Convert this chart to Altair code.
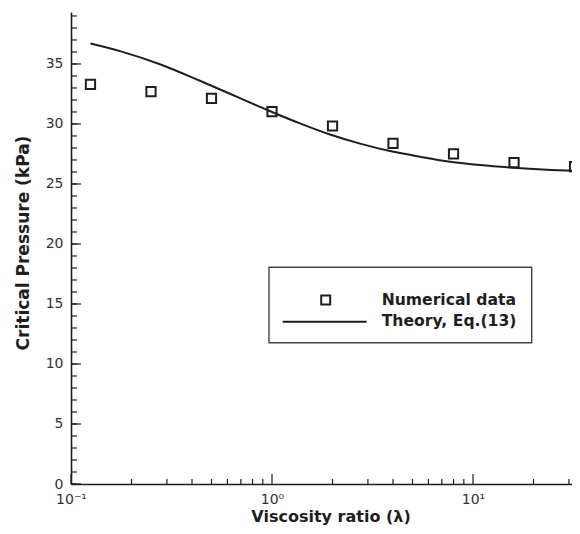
import altair as alt
import pandas as pd

# Numerical data (squares)
lam_data = [0.125, 0.25, 0.5, 1, 2, 4, 8, 16, 32]
p_data = [33.3, 32.7, 32.14, 31.03, 29.83, 28.39, 27.5, 26.78, 26.44]

# Theory curve
lam_theory = [0.125, 0.177, 0.277, 0.438, 0.693, 0.871, 1.0, 1.377, 1.944,
              2.742, 3.866, 5.45, 7.69, 10.84, 15.82, 23.3, 32.9, 34.0]
p_theory = [36.7, 36.05, 34.98, 33.6, 32.15, 31.43, 31.0, 30.05, 29.12,
            28.36, 27.74, 27.27, 26.86, 26.58, 26.36, 26.19, 26.08, 26.06]

# Axis ticks
x_major = [0.1, 1, 10]
x_minor = [0.2, 0.3, 0.4, 0.5, 0.6, 0.7, 0.8, 0.9,
           2, 3, 4, 5, 6, 7, 8, 9, 20, 30]
y_major = [0, 5, 10, 15, 20, 25, 30, 35]
y_minor = list(range(0, 40))

legend_labels = ["Numerical data", "Theory, Eq.(13)"]

W, H = 501, 472
FONT = "DejaVu Sans"
INK = "#1e1e1e"

xscale = alt.Scale(type="log", domain=[0.1, 31.08], nice=False)
yscale = alt.Scale(domain=[0, 39.33], nice=False, zero=False)

xaxis = alt.Axis(
    values=x_major,
    labelExpr="datum.value < 0.5 ? '10⁻¹' : datum.value < 5 ? '10⁰' : '10¹'",
    ticks=False, tickSize=0, grid=False, labelFlush=False,
    domainColor=INK, domainWidth=1.6,
    labelFont=FONT, labelFontSize=14, labelColor="#333333", labelPadding=8,
    title="Viscosity ratio (λ)", titleFont=FONT, titleFontSize=16,
    titleFontWeight="bold", titleColor=INK,
    titleX=259.5, titleY=37, titleBaseline="alphabetic", titleAlign="center",
)
yaxis = alt.Axis(
    values=y_major,
    ticks=False, tickSize=0, grid=False, labelFlush=False,
    domainColor=INK, domainWidth=1.6,
    labelFont=FONT, labelFontSize=14, labelColor="#333333", labelPadding=8,
    title="Critical Pressure (kPa)", titleFont=FONT, titleFontSize=17,
    titleFontWeight="bold", titleColor=INK, titleAngle=270,
    titleX=-42.5, titleY=230.5, titleBaseline="alphabetic", titleAlign="center",
)

theory_df = pd.DataFrame({"lam": lam_theory, "p": p_theory})
data_df = pd.DataFrame({"lam": lam_data, "p": p_data})

line = alt.Chart(theory_df).mark_line(
    color=INK, strokeWidth=2, interpolate="monotone", clip=True
).encode(
    x=alt.X("lam:Q", scale=xscale, axis=xaxis),
    y=alt.Y("p:Q", scale=yscale, axis=yaxis),
)

points = alt.Chart(data_df).mark_point(
    shape="square", filled=False, color=INK, strokeWidth=2, size=85, opacity=1
).encode(
    x=alt.X("lam:Q", scale=xscale, axis=xaxis),
    y=alt.Y("p:Q", scale=yscale, axis=yaxis),
)


def xticks(vals, length):
    return alt.Chart(pd.DataFrame({"v": vals})).mark_rule(
        color=INK, strokeWidth=1.2
    ).encode(
        x=alt.X("v:Q", scale=xscale, axis=xaxis),
        y=alt.value(H),
        y2=alt.value(H - length),
    )


def yticks(vals, length):
    return alt.Chart(pd.DataFrame({"v": vals})).mark_rule(
        color=INK, strokeWidth=1.2
    ).encode(
        y=alt.Y("v:Q", scale=yscale, axis=yaxis),
        x=alt.value(0),
        x2=alt.value(length),
    )


one = alt.Data(values=[{"k": 1}])

legend_box = alt.Chart(one).mark_rect(
    fill="white", stroke="#444444", strokeWidth=1.4
).encode(
    x=alt.value(198), x2=alt.value(460.7),
    y=alt.value(255.3), y2=alt.value(330.7),
)
legend_square = alt.Chart(one).mark_point(
    shape="square", filled=False, color=INK, strokeWidth=2, size=80, opacity=1
).encode(x=alt.value(254.7), y=alt.value(288))
legend_line = alt.Chart(one).mark_rule(color=INK, strokeWidth=2).encode(
    x=alt.value(211.7), x2=alt.value(295.7), y=alt.value(309.7)
)
legend_text1 = alt.Chart(alt.Data(values=[{"t": legend_labels[0]}])).mark_text(
    align="left", baseline="alphabetic", font=FONT, fontSize=15.6,
    fontWeight="bold", color=INK
).encode(x=alt.value(310.7), y=alt.value(293), text="t:N")
legend_text2 = alt.Chart(alt.Data(values=[{"t": legend_labels[1]}])).mark_text(
    align="left", baseline="alphabetic", font=FONT, fontSize=15.6,
    fontWeight="bold", color=INK
).encode(x=alt.value(310.7), y=alt.value(313.7), text="t:N")

chart = alt.layer(
    line,
    xticks(x_minor, 5), xticks(x_major, 10),
    yticks(y_minor, 6), yticks(y_major, 10),
    points,
    legend_box, legend_square, legend_line, legend_text1, legend_text2,
).properties(
    width=W, height=H,
    autosize=alt.AutoSizeParams(type="none"),
    padding={"left": 63, "top": 4, "right": 0, "bottom": 42},
    background="white",
).configure_view(stroke=None)

chart.save("out.html", embed_options={"renderer": "svg", "actions": False})
